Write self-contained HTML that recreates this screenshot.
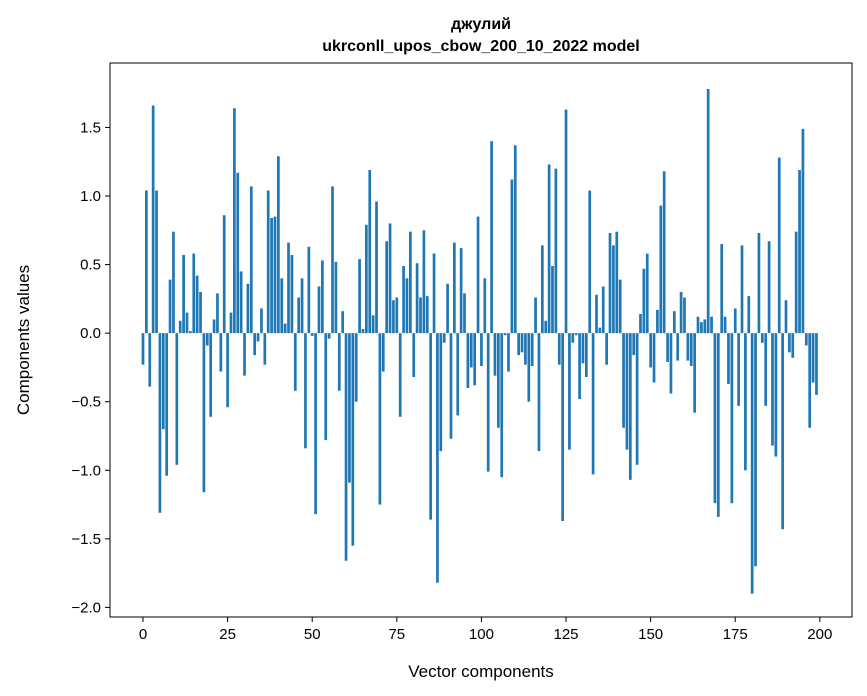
<!DOCTYPE html>
<html><head><meta charset="utf-8"><style>
body{margin:0;background:#fff;}
svg{display:block;font-family:"Liberation Sans","DejaVu Sans",sans-serif;}
</style></head><body>
<svg id="chart" width="867" height="696">
<text x="481" y="29" text-anchor="middle" font-size="16" font-weight="bold">джулий</text>
<text x="481" y="51" text-anchor="middle" font-size="16" font-weight="bold">ukrconll_upos_cbow_200_10_2022 model</text>
<g id="bars"></g>
<g id="axes"></g>
<text x="481" y="677" text-anchor="middle" font-size="17">Vector components</text>
<text transform="translate(29,340) rotate(-90)" text-anchor="middle" font-size="17">Components values</text>
</svg>
<script>
const values = [-0.23,1.04,-0.39,1.66,1.04,-1.31,-0.70,-1.04,0.39,0.74,
-0.96,0.09,0.57,0.15,0.015,0.58,0.42,0.30,-1.16,-0.09,
-0.61,0.10,0.29,-0.28,0.86,-0.54,0.15,1.64,1.17,0.45,
-0.31,0.36,1.07,-0.16,-0.06,0.18,-0.23,1.04,0.84,0.85,
1.29,0.40,0.07,0.66,0.57,-0.42,0.26,0.40,-0.84,0.63,
-0.02,-1.32,0.34,0.53,-0.78,-0.04,1.07,0.52,-0.42,0.16,
-1.66,-1.09,-1.55,-0.50,0.54,0.03,0.79,1.19,0.13,0.96,
-1.25,-0.28,0.67,0.80,0.24,0.26,-0.61,0.49,0.40,0.74,
-0.32,0.51,0.26,0.75,0.27,-1.36,0.58,-1.82,-0.86,-0.07,
0.36,-0.77,0.66,-0.60,0.62,0.29,-0.40,-0.25,-0.38,0.85,
-0.24,0.40,-1.01,1.40,-0.31,-0.69,-1.05,-0.015,-0.28,1.12,
1.37,-0.16,-0.14,-0.23,-0.50,-0.24,0.26,-0.86,0.64,0.09,
1.23,0.49,1.20,-0.23,-1.37,1.63,-0.85,-0.07,-0.015,-0.48,
-0.22,-0.32,1.04,-1.03,0.28,0.04,0.34,-0.23,0.73,0.64,
0.74,0.39,-0.69,-0.85,-1.07,-0.16,-0.96,0.14,0.47,0.58,
-0.25,-0.36,0.17,0.93,1.18,-0.21,-0.44,0.16,-0.20,0.30,
0.26,-0.20,-0.24,-0.58,0.12,0.08,0.10,1.78,0.12,-1.24,
-1.34,0.65,0.12,-0.37,-1.24,0.18,-0.53,0.64,-1.00,0.27,
-1.90,-1.70,0.73,-0.07,-0.53,0.67,-0.82,-0.90,1.28,-1.43,
0.24,-0.14,-0.18,0.74,1.19,1.49,-0.09,-0.69,-0.36,-0.45];
const xTicks = [0,25,50,75,100,125,150,175,200];
const yTicks = [-2.0,-1.5,-1.0,-0.5,0.0,0.5,1.0,1.5];
const yTickLabels = ["\u22122.0","\u22121.5","\u22121.0","\u22120.5","0.0","0.5","1.0","1.5"];

const L=110,R=852,T=63,B=617;
const xmin=-9.75,xmax=209.5,ymin=-2.07,ymax=1.97;
const xs=v=>L+(v-xmin)/(xmax-xmin)*(R-L);
const ys=v=>B-(v-ymin)/(ymax-ymin)*(B-T);
const NS="http://www.w3.org/2000/svg";
const bars=document.getElementById('bars'), axes=document.getElementById('axes');
function mk(tag,attrs,parent){const e=document.createElementNS(NS,tag);for(const k in attrs)e.setAttribute(k,attrs[k]);parent.appendChild(e);return e;}
values.forEach((v,i)=>{
  const x0=xs(i-0.4),x1=xs(i+0.4),y0=ys(0),y1=ys(v);
  const r=mk('rect',{x:x0,y:Math.min(y0,y1),width:x1-x0,height:Math.abs(y1-y0),fill:'#1f77b4'},bars);
  
  
});
const frame=mk('rect',{x:L,y:T,width:R-L,height:B-T,fill:'none',stroke:'#000','stroke-width':1},axes);


xTicks.forEach(t=>{
  const x=xs(t);
  const l=mk('line',{x1:x,x2:x,y1:B,y2:B+5,stroke:'#000'},axes);
  
  
  const tx=mk('text',{x:x,y:B+22,'text-anchor':'middle','font-size':15},axes);
  tx.textContent=String(t);
  
  
});
yTicks.forEach((t,i)=>{
  const y=ys(t);
  const l=mk('line',{x1:L-5,x2:L,y1:y,y2:y,stroke:'#000'},axes);
  
  
  const tx=mk('text',{x:L-9,y:y+5,'text-anchor':'end','font-size':15},axes);
  tx.textContent=yTickLabels[i];
  
  
});
</script>
</body></html>
